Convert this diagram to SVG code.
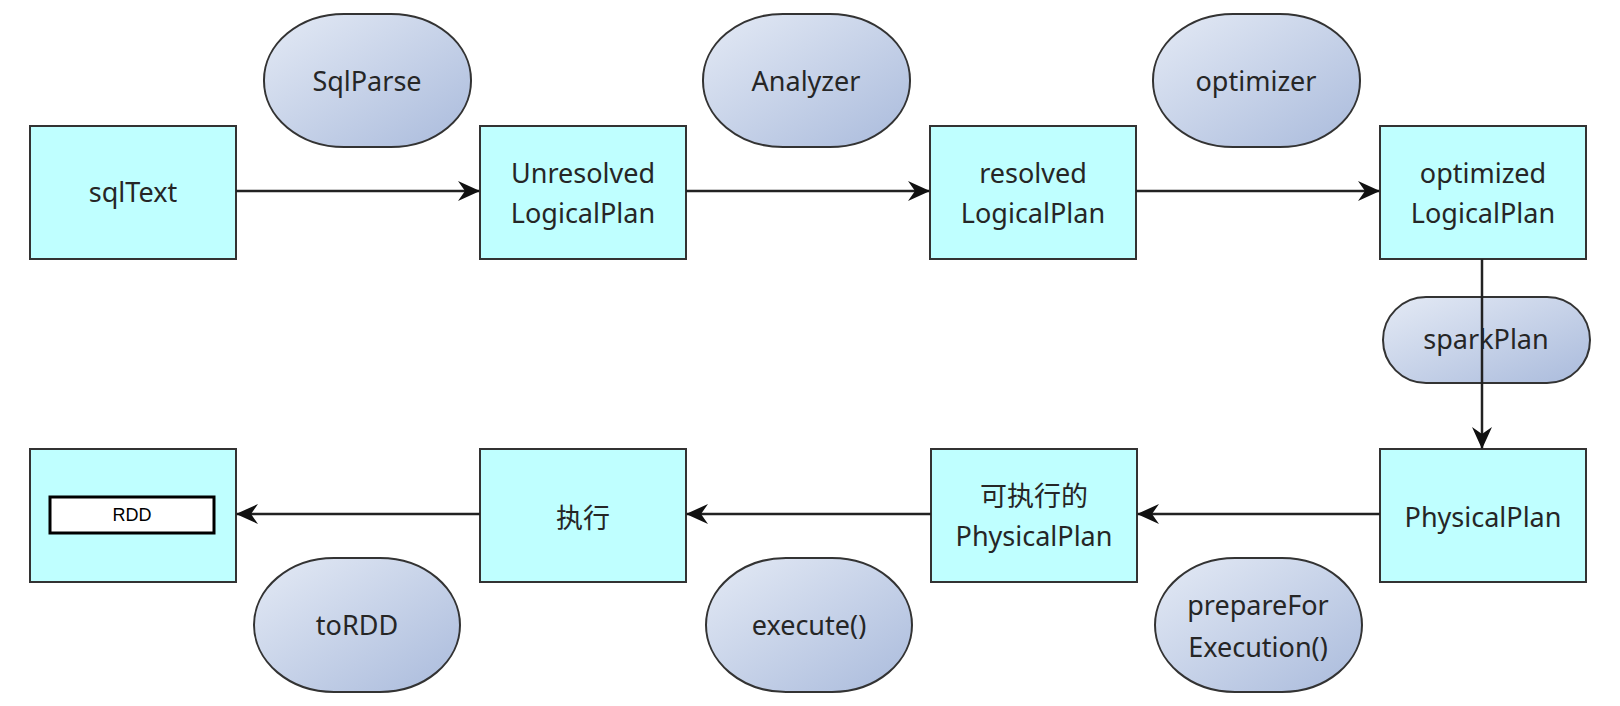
<svg xmlns="http://www.w3.org/2000/svg" width="1620" height="706" viewBox="0 0 1620 706">
<defs>
<linearGradient id="eg" x1="0" y1="0" x2="1" y2="1">
<stop offset="0" stop-color="#e4eaf5"/>
<stop offset="1" stop-color="#aabbdc"/>
</linearGradient>
<marker id="ah" viewBox="0 0 22 20" refX="21" refY="10" markerWidth="22" markerHeight="20" markerUnits="userSpaceOnUse" orient="auto">
<path d="M0,0 L22,10 L0,20 L7,10 Z" fill="#111"/>
</marker>
<style>
.box{fill:#bfffff;stroke:#333;stroke-width:2}
.op{fill:url(#eg);stroke:#333;stroke-width:2}
.t{font-family:"Noto Sans","Open Sans","Noto Sans CJK SC",sans-serif;font-size:27px;fill:#262626;text-anchor:middle}
.c{stroke:#222;stroke-width:2.5;fill:none;marker-end:url(#ah)}
</style>
</defs>
<rect width="1620" height="706" fill="#fff"/>
<g id="sqlText"><rect class="box" x="30" y="126" width="206" height="133"/><text class="t" x="133" y="202">sqlText</text></g>
<g id="unresolved"><rect class="box" x="480" y="126" width="206" height="133"/><text class="t" x="583" y="183">Unresolved</text><text class="t" x="583" y="223">LogicalPlan</text></g>
<g id="resolved"><rect class="box" x="930" y="126" width="206" height="133"/><text class="t" x="1033" y="183">resolved</text><text class="t" x="1033" y="223">LogicalPlan</text></g>
<g id="optimized"><rect class="box" x="1380" y="126" width="206" height="133"/><text class="t" x="1483" y="183">optimized</text><text class="t" x="1483" y="223">LogicalPlan</text></g>
<g id="physicalPlan"><rect class="box" x="1380" y="449" width="206" height="133"/><text class="t" x="1483" y="527">PhysicalPlan</text></g>
<g id="execPhysicalPlan"><rect class="box" x="931" y="449" width="206" height="133"/><text class="t" x="1034" y="506">可执行的</text><text class="t" x="1034" y="546">PhysicalPlan</text></g>
<g id="exec"><rect class="box" x="480" y="449" width="206" height="133"/><text class="t" x="583" y="528">执行</text></g>
<g id="rddNode"><rect class="box" x="30" y="449" width="206" height="133"/><rect x="50" y="497" width="164" height="36" fill="#fff" stroke="#000" stroke-width="3"/><text x="132" y="521" font-family="Liberation Sans, Arial, sans-serif" font-size="18" text-anchor="middle" fill="#000">RDD</text></g>
<g id="sqlParse"><rect class="op" x="264" y="14" width="207" height="133" rx="80" ry="66"/><text class="t" x="367" y="91">SqlParse</text></g>
<g id="analyzer"><rect class="op" x="703" y="14" width="207" height="133" rx="80" ry="66"/><text class="t" x="806" y="91">Analyzer</text></g>
<g id="optimizer"><rect class="op" x="1153" y="14" width="207" height="133" rx="80" ry="66"/><text class="t" x="1256" y="91">optimizer</text></g>
<g id="sparkPlan"><rect class="op" x="1383" y="297" width="207" height="86" rx="43" ry="43"/><text class="t" x="1486" y="349">sparkPlan</text></g>
<g id="prepareForExecution"><rect class="op" x="1155" y="558" width="207" height="134" rx="80" ry="67"/><text class="t" x="1258" y="615">prepareFor</text><text class="t" x="1258" y="657">Execution()</text></g>
<g id="execute"><rect class="op" x="706" y="558" width="206" height="134" rx="80" ry="67"/><text class="t" x="809" y="635">execute()</text></g>
<g id="toRDD"><rect class="op" x="254" y="558" width="206" height="134" rx="80" ry="67"/><text class="t" x="357" y="635">toRDD</text></g>
<g id="connectors">
<line class="c" x1="236" y1="191" x2="479" y2="191"/>
<line class="c" x1="686" y1="191" x2="929" y2="191"/>
<line class="c" x1="1136" y1="191" x2="1379" y2="191"/>
<line class="c" x1="1482" y1="259" x2="1482" y2="448"/>
<line class="c" x1="1380" y1="514" x2="1138" y2="514"/>
<line class="c" x1="931" y1="514" x2="687" y2="514"/>
<line class="c" x1="480" y1="514" x2="237" y2="514"/>
</g>
</svg>
